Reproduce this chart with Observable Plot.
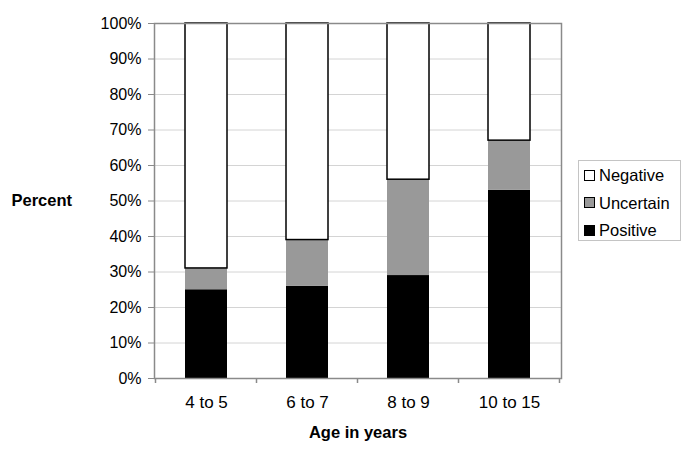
<!DOCTYPE html>
<html>
<head>
<meta charset="utf-8">
<script src="https://cdn.jsdelivr.net/npm/d3@7"></script>
<script src="https://cdn.jsdelivr.net/npm/@observablehq/plot@0.6"></script>
<style>
  html, body { margin: 0; padding: 0; background: #fff; }
  #wrap { position: relative; width: 685px; height: 454px; font-family: "Liberation Sans", Arial, sans-serif; }
  #legend { position: absolute; left: 578px; top: 160px; width: 101px; height: 79px; border: 1px solid #c4c4c4; background: #fff; font-size: 16.5px; color: #000; }
  .item { position: absolute; left: 5px; height: 18px; line-height: 18px; display: flex; align-items: center; }
  .sw { width: 9px; height: 9px; border: 1.5px solid #000; margin-right: 4px; box-sizing: content-box; }
</style>
</head>
<body>
<div id="wrap"></div>
<script>
const ages = ["4 to 5", "6 to 7", "8 to 9", "10 to 15"];
const positive = [25, 26, 29, 53];
const uncertain = [6, 13, 27, 14];
const negative = [69, 61, 44, 33];
const responses = ["Positive", "Uncertain", "Negative"];
const fills = ["#000000", "#999999", "#ffffff"];
const yTicks = [0, 10, 20, 30, 40, 50, 60, 70, 80, 90, 100];

const series = [positive, uncertain, negative];
const data = [];
responses.forEach((r, i) => ages.forEach((a, j) => data.push({age: a, response: r, value: series[i][j]})));

const chart = Plot.plot({
  width: 685,
  height: 454,
  marginLeft: 154,
  marginRight: 124,
  marginTop: 23,
  marginBottom: 76,
  style: {fontFamily: "'Liberation Sans', Arial, sans-serif", fontSize: "16px", color: "#000", background: "#fff"},
  x: {domain: ages, paddingInner: 0.586, paddingOuter: 0.293, label: null},
  y: {domain: [0, 100], label: null},
  color: {domain: responses, range: fills},
  marks: [
    Plot.gridY(yTicks, {stroke: "#d4d4d4", strokeOpacity: 1, strokeWidth: 1}),
    Plot.barY(data, Plot.stackY({
      x: "age", y: "value", fill: "response", order: responses,
      stroke: d => d.response === "Negative" ? "#000" : "none",
      strokeWidth: 1.5
    })),
    Plot.frame({stroke: "#8a8a8a", strokeWidth: 1.5}),
    Plot.axisY(yTicks, {tickFormat: d => d + "%", tickSize: 6, tickPadding: 7, stroke: "#8a8a8a", fill: "#000", fontSize: 16}),
    Plot.axisX({tickSize: 0, tickPadding: 17, fill: "#000", fontSize: 17}),
    Plot.text(["Percent"], {frameAnchor: "left", dx: -143, textAnchor: "start", fontWeight: "bold", fontSize: 16.5, fill: "#000"}),
    Plot.text(["Age in years"], {frameAnchor: "bottom", dy: 59, fontWeight: "bold", fontSize: 16.5, fill: "#000"})
  ]
});

// boundary ticks between categories on the x axis (from the band scale)
const xs = chart.scale("x");
const svg = d3.select(chart);
const bottom = 454 - 76;
const step = xs.step;
const first = xs.apply(ages[0]) - (step - xs.bandwidth) / 2;
for (let i = 0; i <= ages.length; i++) {
  const x = first + i * step;
  svg.append("line").attr("x1", x).attr("x2", x).attr("y1", bottom).attr("y2", bottom + 5)
    .attr("stroke", "#8a8a8a").attr("stroke-width", 1.5);
}

const wrap = document.getElementById("wrap");
wrap.appendChild(chart);

const legend = document.createElement("div");
legend.id = "legend";
const order = ["Negative", "Uncertain", "Positive"];
order.forEach((r, i) => {
  const it = document.createElement("div");
  it.className = "item";
  it.style.top = (5 + i * 27.5) + "px";
  const sw = document.createElement("span");
  sw.className = "sw";
  sw.style.background = fills[responses.indexOf(r)];
  const t = document.createElement("span");
  t.textContent = r;
  it.appendChild(sw); it.appendChild(t);
  legend.appendChild(it);
});
wrap.appendChild(legend);
</script>
</body>
</html>
